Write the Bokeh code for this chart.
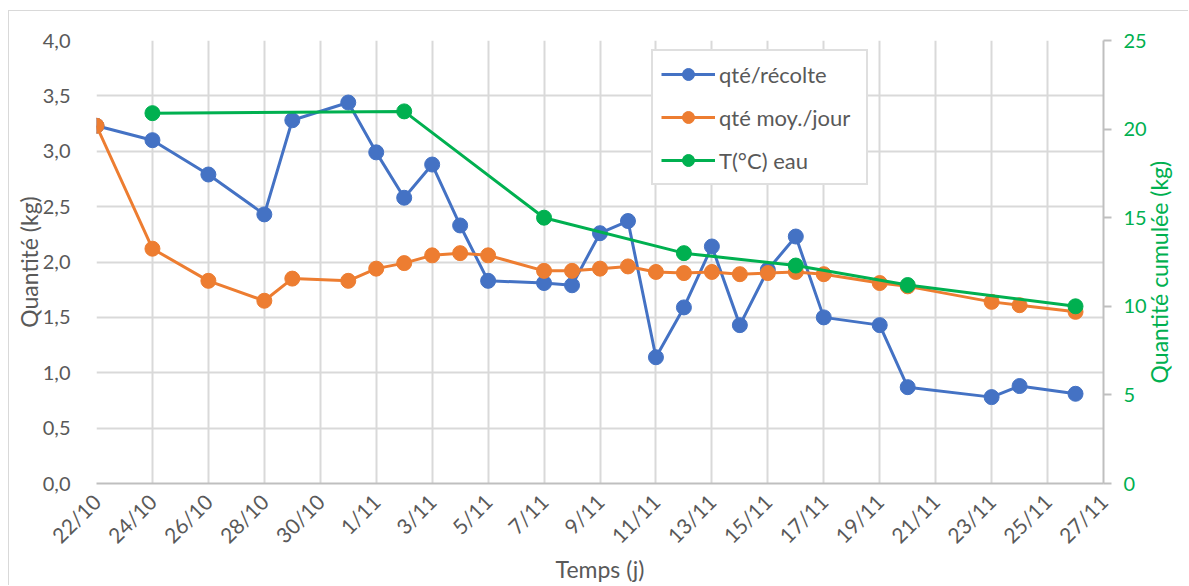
from datetime import date, timedelta
from math import pi
from bokeh.plotting import figure
from bokeh.models import Range1d, LinearAxis, FixedTicker, Legend, LegendItem
from bokeh.embed import file_html
from bokeh.resources import INLINE

# ---------------- data ----------------
harvest_dates = ["22/10", "24/10", "26/10", "28/10", "29/10", "31/10", "1/11", "2/11", "3/11",
                 "4/11", "5/11", "7/11", "8/11", "9/11", "10/11", "11/11", "12/11", "13/11",
                 "14/11", "15/11", "16/11", "17/11", "19/11", "20/11", "23/11", "24/11", "26/11"]
qte_recolte = [3.23, 3.10, 2.79, 2.43, 3.28, 3.44, 2.99, 2.58, 2.88, 2.33, 1.83, 1.81, 1.79,
               2.26, 2.37, 1.14, 1.59, 2.14, 1.43, 1.93, 2.23, 1.50, 1.43, 0.87, 0.78, 0.88, 0.81]
qte_moy_jour = [3.23, 2.12, 1.83, 1.65, 1.85, 1.83, 1.94, 1.99, 2.06, 2.08, 2.06, 1.92, 1.92,
                1.94, 1.96, 1.91, 1.90, 1.91, 1.89, 1.90, 1.91, 1.89, 1.81, 1.78, 1.64, 1.61, 1.55]
temp_dates = ["24/10", "2/11", "7/11", "12/11", "16/11", "20/11", "26/11"]
temp_eau = [20.9, 21.0, 15.0, 13.0, 12.3, 11.2, 10.0]

y_left_ticks = [0, 0.5, 1.0, 1.5, 2.0, 2.5, 3.0, 3.5, 4.0]
y_right_ticks = [0, 5, 10, 15, 20, 25]

START = date(2019, 10, 22)


def day(s):
    d, m = map(int, s.split("/"))
    return (date(2019, m, d) - START).days


x_ticks = list(range(0, 37, 2))
x_labels = {}
for t in x_ticks:
    d = START + timedelta(days=t)
    x_labels[t] = f"{d.day}/{d.month}"

xh = [day(s) for s in harvest_dates]
xt = [day(s) for s in temp_dates]

FONT = "Lato"
GREY = "#595959"
BLUE = "#4472C4"
ORANGE = "#ED7D31"
GREEN = "#00B050"
GRID = "#d9d9d9"

p = figure(width=1180, height=575, output_backend="svg", toolbar_location=None,
           x_range=Range1d(0, 36), y_range=Range1d(0, 4),
           min_border_left=87, min_border_right=78, min_border_top=29, min_border_bottom=99)
p.title.visible = False
p.outline_line_color = None
p.background_fill_color = "white"
p.border_fill_color = "white"
p.styles = {"margin-left": "8px", "margin-top": "10px",
            "border-top": "1px solid #d9d9d9", "border-left": "1px solid #d9d9d9"}

p.extra_y_ranges = {"cum": Range1d(0, 25)}

# x axis
xa = p.xaxis[0]
xa.ticker = FixedTicker(ticks=x_ticks)
xa.major_label_overrides = x_labels
xa.major_label_orientation = pi / 4
xa.axis_line_color = "#bfbfbf"
xa.axis_line_width = 2
xa.major_tick_line_color = None
xa.minor_tick_line_color = None
xa.major_label_text_font = FONT
xa.major_label_text_font_size = "21px"
xa.major_label_text_color = GREY
xa.major_label_standoff = 8
xa.axis_label = "Temps (j)"
xa.axis_label_text_font = FONT
xa.axis_label_text_font_size = "23px"
xa.axis_label_text_font_style = "normal"
xa.axis_label_text_color = GREY
xa.axis_label_standoff = -4

# left axis
ya = p.yaxis[0]
ya.ticker = FixedTicker(ticks=y_left_ticks)
ya.major_label_overrides = {v: f"{v:.1f}".replace(".", ",") for v in y_left_ticks}
ya.axis_line_color = None
ya.major_tick_line_color = None
ya.minor_tick_line_color = None
ya.major_label_text_font = FONT
ya.major_label_text_font_size = "20px"
ya.major_label_text_color = GREY
ya.major_label_standoff = 20
ya.axis_label = "Quantité (kg)"
ya.axis_label_text_font = FONT
ya.axis_label_text_font_size = "23px"
ya.axis_label_text_font_style = "normal"
ya.axis_label_text_color = GREY
ya.axis_label_standoff = -3

# right axis
ra = LinearAxis(y_range_name="cum", ticker=FixedTicker(ticks=y_right_ticks))
ra.axis_line_color = "#bfbfbf"
ra.axis_line_width = 2
ra.major_tick_line_color = "#bfbfbf"
ra.major_tick_line_width = 2
ra.major_tick_out = 8
ra.major_tick_in = 0
ra.minor_tick_line_color = None
ra.major_label_text_font = FONT
ra.major_label_text_font_size = "20px"
ra.major_label_text_color = GREEN
ra.major_label_standoff = 12
ra.axis_label = "\u00a0" * 17 + "Quantité cumulée (kg)"
ra.axis_label_text_font = FONT
ra.axis_label_text_font_size = "23px"
ra.axis_label_text_font_style = "normal"
ra.axis_label_text_color = GREEN
ra.axis_label_standoff = 9
ra.axis_label_orientation = pi / 2
try:
    ra.axis_label_align = "start"
except Exception:
    ra.axis_label_align = "left"
p.add_layout(ra, "right")

p.xgrid.grid_line_color = GRID
p.xgrid.grid_line_width = 2
p.ygrid.grid_line_color = GRID
p.ygrid.grid_line_width = 2

# series
l1 = p.line(xh, qte_recolte, line_color=BLUE, line_width=3)
c1 = p.scatter(xh, qte_recolte, size=15, fill_color=BLUE, line_color=BLUE)
l2 = p.line(xh, qte_moy_jour, line_color=ORANGE, line_width=3)
c2 = p.scatter(xh, qte_moy_jour, size=15, fill_color=ORANGE, line_color=ORANGE)
l3 = p.line(xt, temp_eau, line_color=GREEN, line_width=3, y_range_name="cum")
c3 = p.scatter(xt, temp_eau, size=15, fill_color=GREEN, line_color=GREEN, y_range_name="cum")

legend = Legend(items=[LegendItem(label="qté/récolte", renderers=[l1, c1]),
                       LegendItem(label="qté moy./jour", renderers=[l2, c2]),
                       LegendItem(label="T(°C) eau", renderers=[l3, c3])],
                location=(555, 298))
legend.border_line_color = "#bfbfbf"
legend.border_line_width = 2
legend.background_fill_color = "white"
legend.background_fill_alpha = 1
legend.label_text_font = FONT
legend.label_text_font_size = "22px"
legend.label_text_color = GREY
legend.glyph_width = 54
legend.glyph_height = 30
legend.label_height = 30
legend.label_width = 139
legend.spacing = 13
legend.padding = 8
legend.margin = 0
legend.label_standoff = 4
p.add_layout(legend)

open("out.html", "w").write(file_html(p, INLINE))
